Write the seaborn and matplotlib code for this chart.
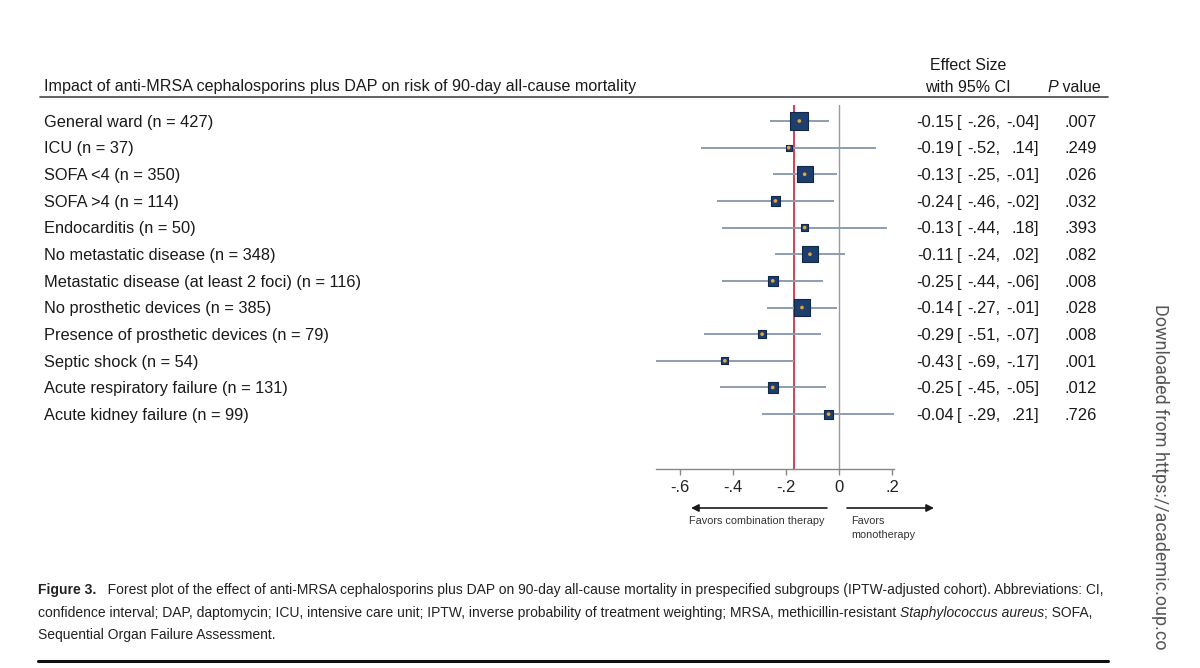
import matplotlib
import numpy as np
import pandas as pd
import seaborn as sns

matplotlib.use("Agg")
import matplotlib.pyplot as plt
from matplotlib import font_manager
from matplotlib.lines import Line2D
from matplotlib.transforms import blended_transform_factory

# --- data ---
SUBGROUPS = [
    "General ward (n = 427)",
    "ICU (n = 37)",
    "SOFA <4 (n = 350)",
    "SOFA >4 (n = 114)",
    "Endocarditis (n = 50)",
    "No metastatic disease (n = 348)",
    "Metastatic disease (at least 2 foci) (n = 116)",
    "No prosthetic devices (n = 385)",
    "Presence of prosthetic devices (n = 79)",
    "Septic shock (n = 54)",
    "Acute respiratory failure (n = 131)",
    "Acute kidney failure (n = 99)",
]
N_PATIENTS = [427, 37, 350, 114, 50, 348, 116, 385, 79, 54, 131, 99]
ESTIMATE = [-0.15, -0.19, -0.13, -0.24, -0.13, -0.11, -0.25, -0.14, -0.29, -0.43, -0.25, -0.04]
CI_LOW = [-0.26, -0.52, -0.25, -0.46, -0.44, -0.24, -0.44, -0.27, -0.51, -0.69, -0.45, -0.29]
CI_HIGH = [-0.04, 0.14, -0.01, -0.02, 0.18, 0.02, -0.06, -0.01, -0.07, -0.17, -0.05, 0.21]
P_VALUES = [".007", ".249", ".026", ".032", ".393", ".082", ".008", ".028", ".008", ".001", ".012", ".726"]
OVERALL = -0.17
X_TICKS = [-0.6, -0.4, -0.2, 0, 0.2]
X_TICK_LABELS = ["-.6", "-.4", "-.2", "0", ".2"]

CAPTION_LINES = [
    [("Figure 3.", "bold"),
     ("   Forest plot of the effect of anti-MRSA cephalosporins plus DAP on 90-day all-cause "
      "mortality in prespecified subgroups (IPTW-adjusted cohort). Abbreviations: CI,", "normal")],
    [("confidence interval; DAP, daptomycin; ICU, intensive care unit; IPTW, inverse probability "
      "of treatment weighting; MRSA, methicillin-resistant ", "normal"),
     ("Staphylococcus aureus", "italic"),
     ("; SOFA,", "normal")],
    [("Sequential Organ Failure Assessment.", "normal")],
]

W, H = 1200, 668
MAIN_FONT = ["Liberation Sans", "DejaVu Sans"]
TEXT_COLOR = "#1a1a1a"


def fx(px):
    return px / W


def fy(py):
    return 1 - py / H


def short(v):
    return f"{v:.2f}".replace("0.", ".", 1)


def caption_family():
    names = {f.name for f in font_manager.fontManager.ttflist}
    for cand in ["Liberation Sans Narrow", "Arial Narrow", "DejaVu Sans Condensed"]:
        if cand in names:
            return [cand, "Liberation Sans"]
    return ["Liberation Sans"]


def draw_runs(fig, x_px, y_px, runs):
    renderer = fig.canvas.get_renderer()
    x = x_px
    artists = []
    for text, kw in runs:
        t = fig.text(fx(x), fy(y_px), text, va="center", ha="left", **kw)
        artists.append(t)
        x += t.get_window_extent(renderer).width
    return x, artists


def run_style(kind, base):
    kw = dict(base)
    if kind == "bold":
        kw["weight"] = "bold"
    elif kind == "italic":
        kw["style"] = "italic"
    return kw


def main():
    sns.set_theme(style="white")
    plt.rcParams["font.family"] = MAIN_FONT

    df = pd.DataFrame(
        {"label": SUBGROUPS, "n": N_PATIENTS, "est": ESTIMATE, "lo": CI_LOW, "hi": CI_HIGH, "p": P_VALUES}
    )
    df["row"] = np.arange(len(df))

    fig = plt.figure(figsize=(W / 100, H / 100), dpi=100)
    fig.patch.set_facecolor("white")
    ax = fig.add_axes([fx(656), fy(469), fx(894) - fx(656), fy(105) - fy(469)])
    ax.set_facecolor("none")

    # CI whiskers
    ax.hlines(df["row"], df["lo"], df["hi"], color="#8d9db2", lw=1.4, zorder=1)
    # reference lines
    ax.axvline(0, color="#9a9a9a", lw=1.0, zorder=0)
    ax.axvline(OVERALL, color="#c8203c", lw=1.2, zorder=0)

    # weighted squares
    sns.scatterplot(
        data=df, x="est", y="row", size="n", sizes=(20, 165), marker="s",
        color="#1d3f6e", edgecolor="#12284a", linewidth=0.8, legend=False, ax=ax, zorder=3,
    )
    sns.scatterplot(
        data=df, x="est", y="row", marker="o", s=7, color="#e8a33a",
        edgecolor="none", legend=False, ax=ax, zorder=4,
    )

    ax.set_xlim(-0.689, 0.206)
    ax.set_ylim(13.06, -0.6)
    ax.set_xlabel("")
    ax.set_ylabel("")
    ax.set_yticks([])
    ax.set_xticks(X_TICKS)
    ax.set_xticklabels(X_TICK_LABELS, fontsize=12, color="#222222")
    ax.tick_params(axis="x", direction="out", length=4, width=1, color="#888888", pad=4, bottom=True)
    for side in ["left", "top", "right"]:
        ax.spines[side].set_visible(False)
    ax.spines["bottom"].set_color("#888888")
    ax.spines["bottom"].set_linewidth(1.0)

    # row labels and right-hand columns
    tr = blended_transform_factory(fig.transFigure, ax.transData)
    for _, r in df.iterrows():
        y = r["row"] + 0.05
        ax.text(fx(44), y, r["label"], transform=tr, va="center", ha="left", fontsize=11.8, color=TEXT_COLOR)
        ax.text(fx(954), y, f"{r['est']:.2f}", transform=tr, va="center", ha="right", fontsize=12, color=TEXT_COLOR)
        ax.text(fx(957), y, "[", transform=tr, va="center", ha="left", fontsize=12, color=TEXT_COLOR)
        ax.text(fx(1000), y, f"{short(r['lo'])},", transform=tr, va="center", ha="right", fontsize=12, color=TEXT_COLOR)
        ax.text(fx(1039), y, f"{short(r['hi'])}]", transform=tr, va="center", ha="right", fontsize=12, color=TEXT_COLOR)
        ax.text(fx(1065), y, r["p"], transform=tr, va="center", ha="left", fontsize=12, color=TEXT_COLOR)

    # header
    fig.text(fx(44), fy(87), "Impact of anti-MRSA cephalosporins plus DAP on risk of 90-day all-cause mortality",
             va="center", ha="left", fontsize=11.6, color=TEXT_COLOR)
    fig.text(fx(968), fy(65), "Effect Size", va="center", ha="center", fontsize=11.5, color=TEXT_COLOR)
    fig.text(fx(968), fy(87), "with 95% CI", va="center", ha="center", fontsize=11.5, color=TEXT_COLOR)
    draw_runs(fig, 1047, 87, [("P", dict(fontsize=11.5, style="italic", color=TEXT_COLOR)),
                              (" value", dict(fontsize=11.5, color=TEXT_COLOR))])
    fig.add_artist(Line2D([fx(40), fx(1108)], [fy(97), fy(97)], color="#555555", lw=1.3))

    # direction arrows
    arrow = dict(arrowstyle="-|>", color="#1a1a1a", lw=1.2, mutation_scale=11, shrinkA=0, shrinkB=0)
    fig.add_artist(plt.Annotation("", xy=(fx(691), fy(508)), xytext=(fx(827), fy(508)),
                                  xycoords="figure fraction", arrowprops=arrow))
    fig.add_artist(plt.Annotation("", xy=(fx(934), fy(508)), xytext=(fx(847), fy(508)),
                                  xycoords="figure fraction", arrowprops=arrow))
    fig.text(fx(689), fy(521), "Favors combination therapy", va="center", ha="left", fontsize=7.8, color="#333333")
    fig.text(fx(851), fy(528), "Favors\nmonotherapy", va="center", ha="left", fontsize=7.8,
             color="#333333", linespacing=1.4)

    # caption, sized so that the first line spans the same width as in the original
    family = caption_family()
    base = dict(fontsize=10.8, color="#222222", family=family)
    probe_end, probe = draw_runs(fig, 38, 590, [(t, run_style(k, base)) for t, k in CAPTION_LINES[0]])
    for a in probe:
        a.remove()
    base["fontsize"] = min(10.8, 10.8 * (1106 - 38) / (probe_end - 38))
    for line, y_px in zip(CAPTION_LINES, [590, 613, 635]):
        draw_runs(fig, 38, y_px, [(t, run_style(k, base)) for t, k in line])
    fig.add_artist(Line2D([fx(38), fx(1108)], [fy(661), fy(661)], color="#111111", lw=2.2))

    # side watermark (only the part visible in the original)
    fig.text(fx(1160), fy(304), "Downloaded from https://academic.oup.co",
             rotation=270, va="top", ha="center", fontsize=13, color="#555555", family=["Roboto", "DejaVu Sans"])

    fig.savefig("out.png", dpi=100)
    plt.close(fig)


if __name__ == "__main__":
    main()
